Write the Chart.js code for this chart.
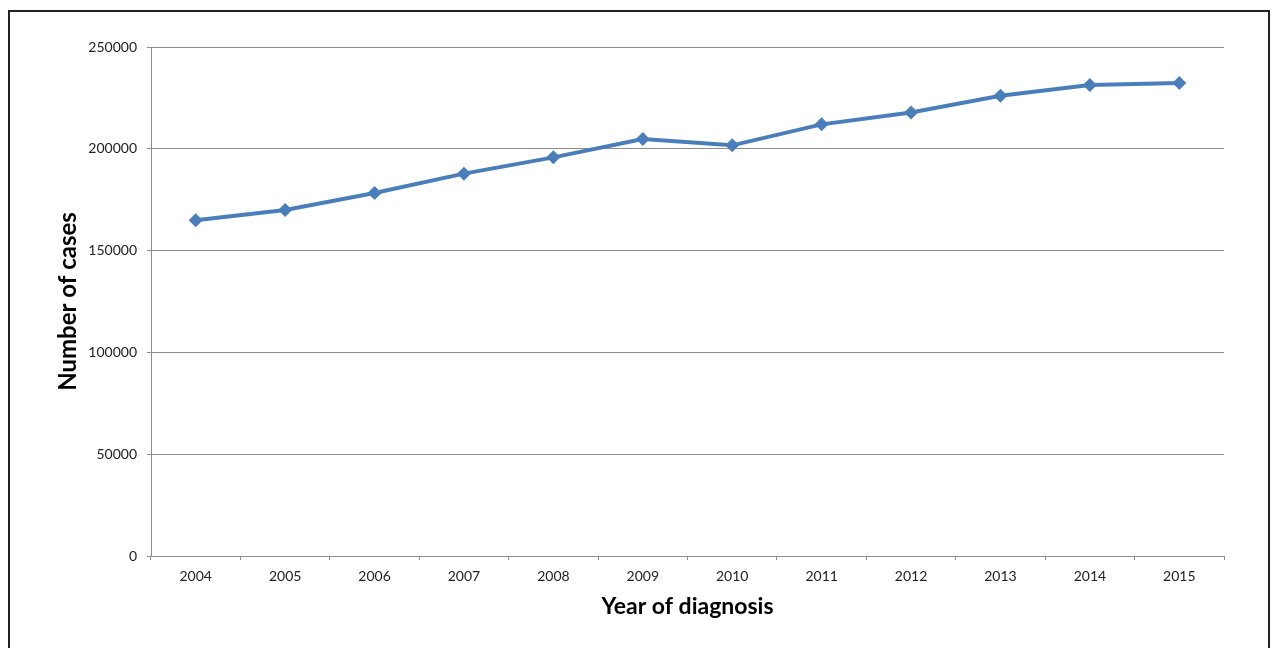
<!DOCTYPE html>
<html>
<head>
<meta charset="utf-8">
<script src="https://cdn.jsdelivr.net/npm/chart.js@4"></script>
<style>
  html, body { margin: 0; padding: 0; background: #fff; overflow: hidden; }
  #wrap { position: relative; width: 1274px; height: 648px; overflow: hidden; }
  #frame { position: absolute; left: 8px; top: 10px; width: 1258px; height: 700px; border: 2px solid #222; }
  #chart { position: absolute; left: 0; top: 0; }
</style>
</head>
<body>
<div id="wrap">
  <div id="frame"></div>
  <canvas id="chart" width="1274" height="648"></canvas>
</div>
<script>
// data
const years = ['2004', '2005', '2006', '2007', '2008', '2009', '2010', '2011', '2012', '2013', '2014', '2015'];
const cases = [164900, 169900, 178300, 187800, 195800, 204800, 201700, 212000, 217800, 226100, 231300, 232300];
const yMin = 0;
const yMax = 250000;
const yStep = 50000;

const gridGrey = '#8c8c8c';
Chart.defaults.font.family = 'Lato, "Open Sans", sans-serif';

new Chart(document.getElementById('chart'), {
    type: 'line',
    data: {
        labels: years,
        datasets: [
            {
                label: 'Number of cases',
                data: cases,
                borderColor: '#4a7ebb',
                backgroundColor: '#4a7ebb',
                borderWidth: 4,
                pointStyle: 'rectRot',
                pointRadius: 7,
                pointBorderWidth: 0,
                tension: 0,
                fill: false
            }
        ]
    },
    options: {
        responsive: false,
        animation: false,
        layout: {
            padding: {left: 50, top: 47, right: 50, bottom: 0}
        },
        plugins: {
            legend: {display: false},
            tooltip: {enabled: false}
        },
        scales: {
            x: {
                offset: true,
                grid: {
                    offset: true,
                    drawOnChartArea: false,
                    drawTicks: true,
                    tickLength: 4,
                    color: gridGrey
                },
                border: {color: gridGrey},
                ticks: {
                    color: '#222',
                    padding: 8,
                    font: {size: 14}
                },
                title: {
                    display: true,
                    text: 'Year of diagnosis',
                    color: '#000',
                    font: {size: 23, weight: 'bold'},
                    padding: {top: 0, bottom: 28}
                },
                afterFit: function(scale) {
                    scale.height = 92;
                }
            },
            y: {
                min: yMin,
                max: yMax,
                ticks: {
                    stepSize: yStep,
                    color: '#222',
                    padding: 10,
                    font: {size: 14},
                    callback: function(v) { return String(v); }
                },
                grid: {
                    color: gridGrey,
                    tickLength: 4
                },
                border: {color: gridGrey},
                title: {
                    display: true,
                    text: 'Number of cases',
                    color: '#000',
                    font: {size: 24, weight: 'bold'},
                    padding: {top: 4, bottom: 0}
                },
                afterFit: function(scale) {
                    scale.width = 101;
                }
            }
        }
    }
});
</script>
</body>
</html>
